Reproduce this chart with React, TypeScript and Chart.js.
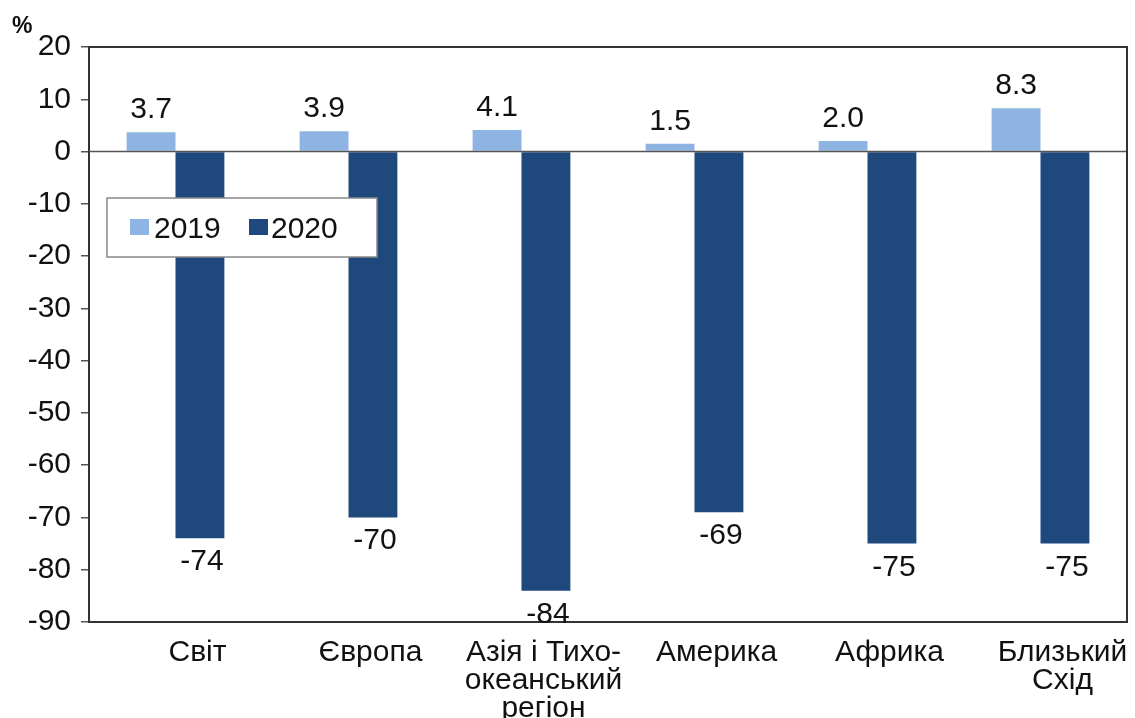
import React, { useEffect, useRef } from "react";
import { Chart, registerables } from "chart.js";

Chart.register(...registerables);

const categories: (string | string[])[] = [
  "Світ",
  "Європа",
  ["Азія і Тихо-", "океанський", "регіон"],
  "Америка",
  "Африка",
  ["Близький", "Схід"],
];
const series2019 = [3.7, 3.9, 4.1, 1.5, 2.0, 8.3];
const series2020 = [-74, -70, -84, -69, -75, -75];
const seriesNames = ["2019", "2020"];
const seriesColors = ["#8DB4E2", "#1F497D"];
const yMin = -90;
const yMax = 20;
const yStep = 10;
const unitLabel = "%";

const FONT = "'Liberation Sans', Arial, sans-serif";
const FS = 30;

const overlayPlugin = {
  id: "overlay",
  afterDatasetsDraw(chart: any) {
    const ctx = chart.ctx;
    const ca = chart.chartArea;
    const yScale = chart.scales.y;
    ctx.save();
    // zero line
    const y0 = yScale.getPixelForValue(0);
    ctx.strokeStyle = "#555";
    ctx.lineWidth = 1.5;
    ctx.beginPath();
    ctx.moveTo(ca.left, y0);
    ctx.lineTo(ca.right + 1, y0);
    ctx.stroke();
    // frame top & right
    ctx.strokeStyle = "#333";
    ctx.lineWidth = 2;
    ctx.beginPath();
    ctx.moveTo(ca.left, ca.top);
    ctx.lineTo(ca.right, ca.top);
    ctx.lineTo(ca.right, ca.bottom);
    ctx.stroke();

    // data labels
    ctx.fillStyle = "#111";
    ctx.font = `${FS}px ${FONT}`;
    ctx.textAlign = "center";
    ctx.textBaseline = "alphabetic";
    chart.data.datasets.forEach((ds: any, di: number) => {
      const meta = chart.getDatasetMeta(di);
      meta.data.forEach((bar: any, i: number) => {
        const v = ds.data[i];
        const txt = di === 0 ? v.toFixed(1) : String(v);
        if (v >= 0) {
          ctx.fillText(txt, bar.x, bar.y - 14);
        } else {
          ctx.fillText(txt, bar.x + 2, bar.y + 32);
        }
      });
    });

    // legend box
    const lx = 107, ly = 198, lw = 270, lh = 59;
    ctx.fillStyle = "#fff";
    ctx.fillRect(lx, ly, lw, lh);
    ctx.strokeStyle = "#888";
    ctx.lineWidth = 1.5;
    ctx.strokeRect(lx, ly, lw, lh);
    const items = [
      { sx: 130, tx: 154 },
      { sx: 249, tx: 271 },
    ];
    chart.data.datasets.forEach((ds: any, di: number) => {
      const it = items[di];
      ctx.fillStyle = ds.backgroundColor;
      ctx.fillRect(it.sx, 219, 19, 16);
      ctx.fillStyle = "#111";
      ctx.textAlign = "left";
      ctx.textBaseline = "alphabetic";
      ctx.fillText(ds.label, it.tx, 238);
    });

    // unit label
    ctx.font = `bold 23px ${FONT}`;
    ctx.textAlign = "left";
    ctx.fillText(unitLabel, 12, 33);
    ctx.restore();
  },
};

export default function App() {
  const ref = useRef<HTMLCanvasElement | null>(null);
  useEffect(() => {
    if (!ref.current) return;
    const chart = new Chart(ref.current, {
      type: "bar",
      data: {
        labels: categories,
        datasets: [
          {
            label: seriesNames[0],
            data: series2019,
            backgroundColor: seriesColors[0],
            categoryPercentage: 0.565,
            barPercentage: 1.0,
          },
          {
            label: seriesNames[1],
            data: series2020,
            backgroundColor: seriesColors[1],
            categoryPercentage: 0.565,
            barPercentage: 1.0,
          },
        ],
      },
      options: {
        animation: false,
        responsive: true,
        maintainAspectRatio: false,
        layout: { padding: { top: 47, right: 8, left: 0, bottom: 0 } },
        plugins: {
          legend: { display: false },
          tooltip: { enabled: false },
          title: { display: false },
        },
        scales: {
          x: {
            grid: { display: false, drawTicks: false },
            border: { display: true, color: "#333", width: 2 },
            ticks: {
              color: "#111",
              font: { family: FONT, size: FS, lineHeight: 0.93 },
              labelOffset: 22,
              maxRotation: 0,
              minRotation: 0,
              autoSkip: false,
              padding: 17,
            },
            afterFit: (s: any) => {
              s.height = 96;
            },
          },
          y: {
            min: yMin,
            max: yMax,
            ticks: {
              stepSize: yStep,
              color: "#111",
              font: { family: FONT, size: FS },
              padding: 10,
            },
            grid: {
              drawOnChartArea: false,
              drawTicks: true,
              tickLength: 8,
              color: "#555",
              lineWidth: 1.5,
            },
            border: { display: true, color: "#333", width: 2 },
            afterFit: (s: any) => {
              s.width = 89;
            },
          },
        },
      },
      plugins: [overlayPlugin],
    });
    return () => chart.destroy();
  }, []);
  return (
    <div style={{ position: "fixed", left: 0, top: 0, width: 1135, height: 718, background: "#fff" }}>
      <canvas ref={ref} />
    </div>
  );
}
